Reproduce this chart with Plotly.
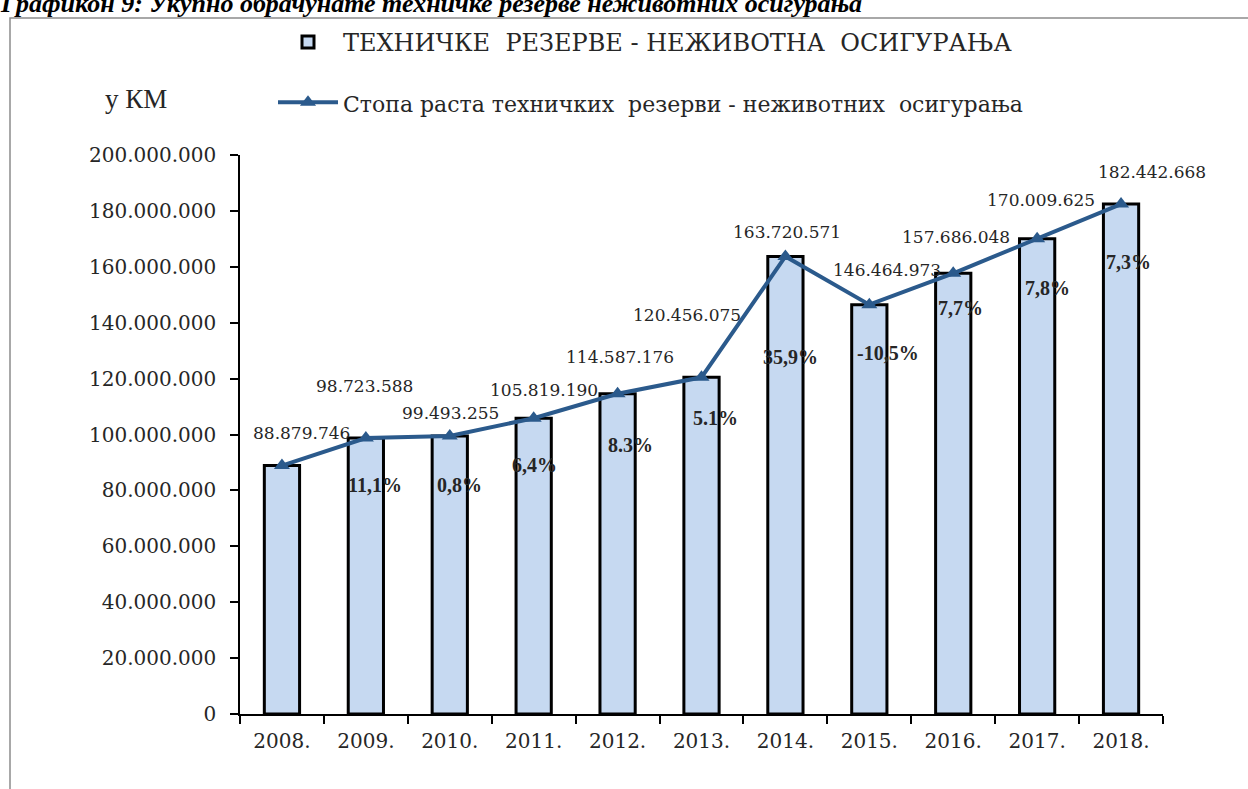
import plotly.graph_objects as go

# ---------------- data ----------------
years = ["2008.", "2009.", "2010.", "2011.", "2012.", "2013.", "2014.", "2015.", "2016.", "2017.", "2018."]
reserves = [88879746, 98723588, 99493255, 105819190, 114587176, 120456075,
            163720571, 146464973, 157686048, 170009625, 182442668]
growth_labels = ["", "11,1%", "0,8%", "6,4%", "8.3%", "5.1%", "35,9%", "-10,5%", "7,7%", "7,8%", "7,3%"]
y_ticks = [0, 20000000, 40000000, 60000000, 80000000, 100000000,
           120000000, 140000000, 160000000, 180000000, 200000000]

bar_name = "ТЕХНИЧКЕ  РЕЗЕРВЕ - НЕЖИВОТНА  ОСИГУРАЊА"
line_name = "Стопа раста техничких  резерви - неживотних  осигурања"
title_text = "Графикон 9: Укупно обрачунате техничке резерве неживотних осигурања"
unit_text = "у КМ"

# label offsets (pixels) relative to each bar top
val_dx = [20, -1, 1, 10, 2, -15, 2, 18, 3, 4, 31]
val_dy = [33, 52, 23, 28, 37, 62, 24, 35, 36, 39, 32]
pct_dx = [0, 9, 10, 1, 13, 14, 5, 19, 7, 10, 7]
pct_dy = [0, -47, -49, -47, -51, -41, -101, -48, -35, -49, -58]

# ---------------- styling ----------------
FONT = "DejaVu Serif"
FONT_B = "Liberation Serif"
TXT = "#262626"
BAR_FILL = "#C6D9F1"
LINE_COL = "#2B5A8C"

W, H = 1248, 789
L, R, T, B = 240, 85, 155, 75
pw, ph = W - L - R, H - T - B

def px_x(px):
    return (px - L) / pw

def px_y(py):
    return (H - B - py) / ph

n = len(years)

fig = go.Figure()

fig.add_trace(go.Bar(
    x=years, y=reserves, name=bar_name,
    width=0.42,
    marker=dict(color=BAR_FILL, line=dict(color="black", width=3)),
    legendgroup="a",
    hoverinfo="skip",
))
fig.add_trace(go.Scatter(
    x=years, y=reserves, name=f'<span style="font-size:22px">{line_name}</span>',
    mode="lines+markers",
    line=dict(color=LINE_COL, width=4),
    marker=dict(symbol="triangle-up", size=14, color=LINE_COL),
    legendgroup="b",
    hoverinfo="skip",
))

annotations = []
for i, v in enumerate(reserves):
    annotations.append(dict(
        x=i, y=v, xref="x", yref="y",
        text=f"{v:,}".replace(",", "."),
        showarrow=False, xshift=val_dx[i], yshift=val_dy[i],
        font=dict(family=FONT, size=17, color=TXT),
        xanchor="center", yanchor="middle",
    ))
    if growth_labels[i]:
        annotations.append(dict(
            x=i, y=v, xref="x", yref="y",
            text=f"<b>{growth_labels[i]}</b>",
            showarrow=False, xshift=pct_dx[i], yshift=pct_dy[i],
            font=dict(family=FONT_B, size=20, color=TXT),
            xanchor="center", yanchor="middle",
        ))

annotations.append(dict(
    x=px_x(-2), y=px_y(4), xref="paper", yref="paper",
    text=f"<b><i>{title_text}</i></b>", showarrow=False,
    xanchor="left", yanchor="middle",
    font=dict(family=FONT_B, size=26, color="black"),
))
annotations.append(dict(
    x=px_x(136), y=px_y(99), xref="paper", yref="paper",
    text=unit_text, showarrow=False,
    xanchor="center", yanchor="middle",
    font=dict(family=FONT_B, size=27, color=TXT),
))

shapes = [dict(
    type="rect", xref="paper", yref="paper",
    x0=px_x(10), y0=px_y(900), x1=px_x(1400), y1=px_y(18),
    line=dict(color="#8C8C8C", width=1.5), fillcolor="rgba(0,0,0,0)",
    layer="below",
)]

fig.update_layout(
    width=W, height=H,
    margin=dict(l=L, r=R, t=T, b=B),
    paper_bgcolor="white", plot_bgcolor="white",
    separators=",.",
    font=dict(family=FONT, size=20, color=TXT),
    showlegend=True,
    legend=dict(
        x=px_x(273), y=px_y(20), xanchor="left", yanchor="top",
        orientation="v", traceorder="grouped", tracegroupgap=26,
        font=dict(family=FONT, size=24, color=TXT),
        bgcolor="rgba(0,0,0,0)", itemwidth=60,
    ),
    xaxis=dict(
        type="category", range=[-0.5, n - 0.5],
        showline=True, linecolor="black", linewidth=1.5,
        ticks="outside", ticklen=8, tickwidth=1.5, tickcolor="black",
        tickson="boundaries", showgrid=False, zeroline=False,
        ticklabelstandoff=8,
        tickfont=dict(family=FONT, size=20, color=TXT),
    ),
    yaxis=dict(
        range=[0, 200000000], tickvals=y_ticks, tickformat=",d",
        showline=True, linecolor="black", linewidth=1.5,
        ticks="outside", ticklen=8, tickwidth=1.5, tickcolor="black",
        showgrid=False, zeroline=False,
        ticklabelstandoff=10,
        tickfont=dict(family=FONT, size=20, color=TXT),
    ),
    annotations=annotations,
    shapes=shapes,
)

fig.write_html("out.html", config={"displayModeBar": False},
               post_script="document.body.style.margin='0';")
